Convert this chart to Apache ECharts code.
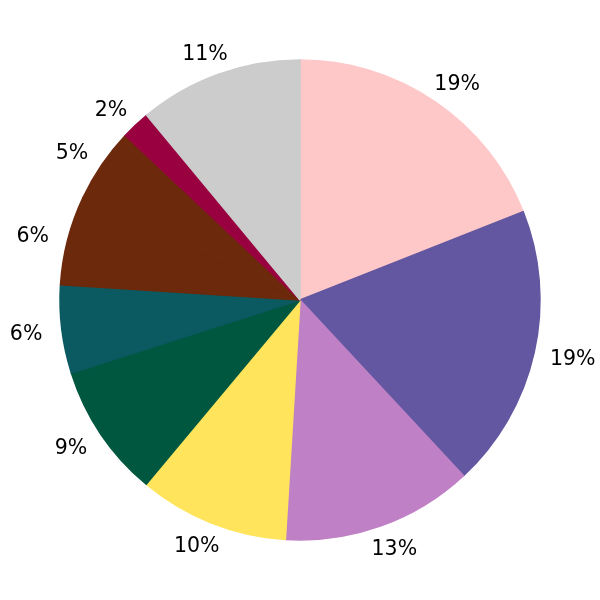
<!DOCTYPE html>
<html><head><meta charset="utf-8">
<script src="https://cdn.jsdelivr.net/npm/echarts@6/dist/echarts.min.js"></script>
<style>html,body{margin:0;padding:0;background:#fff}#c{width:600px;height:600px}</style>
</head><body><div id="c"></div>
<script>
const categories = ['A','B','C','D','E','F','G','H','I','J'];
const values = [19.0, 19.07, 12.9, 10.1, 9.0, 5.95, 6.0, 5.0, 1.95, 11.03];
const labels = ['19%','19%','13%','10%','9%','6%','6%','5%','2%','11%'];
const colors = ['#fec8c9','#6257a0','#c080c6','#ffe45c','#00573f','#0b5961','#6d290b','#6d290b','#990040','#cccccc'];

// mid-angle (clockwise from 12 o'clock) of each slice, derived from values
const total = values.reduce((a, b) => a + b, 0);
const midSin = [], midCos = [];
let acc = 0;
values.forEach(v => { const mid = (acc + v / 2) / total * 2 * Math.PI; midSin.push(Math.sin(mid)); midCos.push(Math.cos(mid)); acc += v; });

const chart = echarts.init(document.getElementById('c'), null, {renderer:'canvas'});
chart.setOption({
  animation: false,
  series: [{
    type: 'pie',
    silent: true,
    center: [300, 300],
    radius: [0, 240],
    startAngle: 90,
    clockwise: true,
    avoidLabelOverlap: false,
    data: categories.map((c, i) => ({name: c, value: values[i], itemStyle: {color: colors[i], borderColor: colors[i], borderWidth: 1.5}})),
    label: {show: false},
    labelLine: {show: false}
  }, {
    type: 'pie',
    silent: true,
    center: [300, 300],
    radius: [240, 288],
    startAngle: 90,
    clockwise: true,
    avoidLabelOverlap: false,
    data: categories.map((c, i) => ({name: c, value: values[i], label: {formatter: labels[i]}})),
    itemStyle: {color: 'rgba(0,0,0,0)', borderWidth: 0},
    label: {show: true, position: 'inside', fontFamily: 'DejaVu Sans', fontSize: 20.5, color: '#000'},
    labelLine: {show: false},
    labelLayout: function (p) {
      if (p.seriesIndex !== 1) return {};
      const i = p.dataIndex;
      return {dx: 0.55 * (p.labelRect.width / 2) * midSin[i], dy: 2 + 4 * midCos[i]};
    }
  }]
});
</script></body></html>
